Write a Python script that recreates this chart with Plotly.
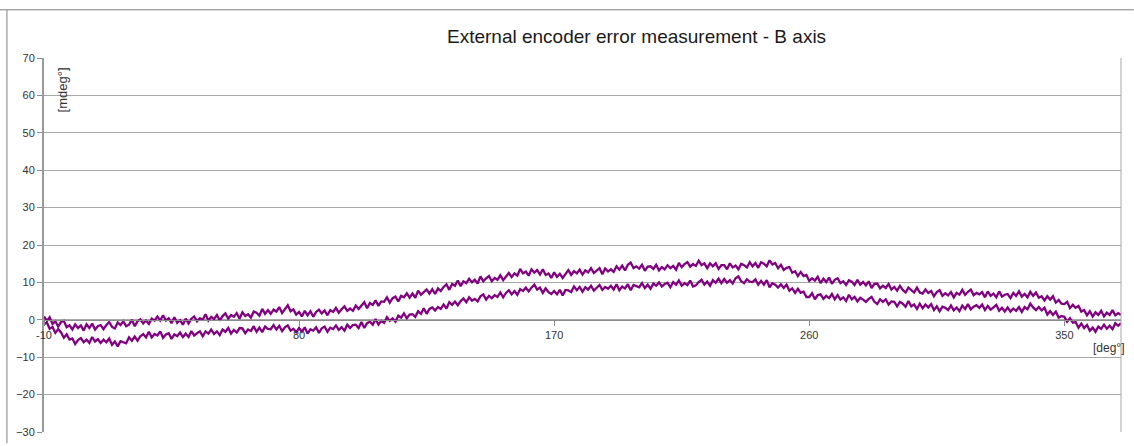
import plotly.graph_objects as go

# Sampling positions [deg]
angle_deg = list(range(-10, 371))

# Upper trace [mdeg] (1 deg steps, -10 .. 370)
upper_mdeg = [
    0.9, -0.3, 0.7, -1.1, -0.4, -1.8, -0.6, -0.3, -2.0, -1.5,
    -2.6, -1.2, -2.2, -1.5, -2.9, -1.2, -2.2, -1.0, -2.6, -1.7,
    -1.4, -2.5, -1.4, -0.6, -1.9, -2.3, -0.7, -1.4, -0.4, -1.7,
    -1.3, 0.0, -1.7, -0.4, 0.1, -1.0, -0.2, -1.1, 0.3, -0.2,
    0.9, -0.2, 1.2, -0.2, 0.4, -0.9, 0.7, -0.8, -0.1, -1.3,
    0.3, -1.0, 0.3, 0.9, -0.4, 0.4, 0.0, 1.5, -0.2, 0.8,
    0.2, 1.3, -0.2, 1.0, 1.7, 0.3, 1.3, 0.8, 1.8, 0.3,
    2.0, 1.0, 1.5, 0.6, 2.2, 1.9, 1.1, 2.9, 1.6, 2.6,
    1.6, 2.7, 2.2, 3.4, 1.8, 3.0, 3.9, 2.3, 2.8, 1.4,
    2.1, 0.9, 2.4, 1.2, 2.3, 0.8, 2.1, 2.7, 1.7, 2.5,
    1.2, 2.6, 2.1, 3.2, 1.9, 2.8, 3.6, 2.4, 3.0, 2.4,
    3.8, 2.9, 3.8, 4.7, 3.1, 4.5, 4.0, 5.2, 3.7, 4.9,
    4.8, 6.0, 4.6, 5.8, 6.2, 4.9, 6.4, 6.0, 7.1, 5.9,
    7.0, 5.9, 7.8, 6.7, 7.4, 8.1, 7.0, 8.2, 6.9, 8.4,
    7.7, 8.8, 9.5, 8.0, 9.6, 9.1, 10.5, 9.0, 10.3, 9.8,
    11.0, 10.0, 10.7, 9.7, 11.6, 10.3, 11.1, 11.7, 10.3, 11.2,
    10.7, 11.9, 10.6, 11.7, 12.5, 11.4, 12.4, 11.8, 13.6, 12.4,
    12.9, 11.8, 13.5, 12.6, 13.3, 12.1, 13.5, 12.0, 12.4, 11.2,
    12.7, 11.5, 12.3, 11.2, 12.3, 13.3, 12.0, 13.0, 12.4, 13.4,
    12.1, 13.2, 12.7, 13.8, 12.5, 13.2, 13.8, 12.2, 13.7, 12.9,
    13.5, 12.8, 14.3, 13.4, 14.5, 13.2, 14.7, 15.3, 13.8, 14.3,
    13.7, 14.7, 13.1, 14.2, 14.3, 13.6, 14.7, 13.2, 14.1, 13.5,
    14.6, 13.8, 14.4, 13.4, 15.2, 14.1, 14.9, 15.4, 14.2, 14.9,
    14.4, 15.8, 14.6, 15.1, 13.8, 15.1, 14.3, 15.1, 13.6, 14.6,
    14.6, 13.5, 15.1, 14.0, 14.5, 13.5, 15.0, 14.6, 14.0, 15.4,
    14.3, 15.2, 13.9, 15.4, 15.0, 14.3, 15.9, 14.8, 15.2, 13.8,
    14.7, 13.3, 13.9, 14.1, 12.6, 13.0, 11.7, 12.8, 11.7, 12.0,
    10.4, 11.1, 10.5, 11.5, 9.8, 11.0, 10.1, 11.3, 9.6, 10.7,
    11.1, 9.8, 10.3, 9.3, 10.6, 10.2, 9.3, 10.7, 9.4, 10.1,
    9.2, 10.3, 8.5, 9.6, 9.7, 8.4, 9.1, 8.5, 9.6, 8.1,
    8.8, 7.8, 9.1, 8.0, 7.3, 8.6, 8.0, 7.3, 8.6, 7.3,
    7.0, 8.1, 7.2, 7.7, 6.3, 7.4, 7.9, 6.4, 7.1, 6.5,
    7.4, 6.0, 7.2, 6.7, 8.0, 6.7, 7.5, 8.1, 6.6, 7.2,
    6.8, 7.4, 6.0, 7.6, 6.4, 7.0, 6.0, 7.6, 6.2, 6.7,
    6.9, 5.8, 7.2, 6.4, 7.6, 6.2, 6.9, 6.0, 7.5, 6.4,
    7.3, 5.9, 6.3, 5.2, 6.3, 5.4, 6.3, 4.6, 5.3, 4.3,
    4.2, 4.8, 3.1, 4.0, 3.2, 3.7, 2.2, 2.6, 1.2, 2.3,
    0.9, 2.0, 1.3, 2.4, 0.9, 1.9, 1.3, 2.6, 1.2, 1.8, 1.3,
]

# Lower trace [mdeg]
lower_mdeg = [
    -1.2, -0.7, -2.4, -1.9, -3.5, -2.5, -3.4, -4.8, -3.9, -5.3,
    -5.0, -6.5, -5.4, -4.9, -6.0, -5.3, -6.2, -4.6, -5.8, -5.2,
    -6.2, -5.3, -6.0, -5.0, -6.7, -5.8, -7.1, -5.7, -6.0, -6.3,
    -4.7, -5.6, -4.5, -5.6, -4.4, -3.8, -4.7, -3.2, -4.7, -3.8,
    -4.2, -3.1, -4.8, -3.9, -3.6, -5.1, -3.9, -4.4, -3.4, -4.6,
    -3.7, -4.6, -3.0, -4.2, -3.6, -3.1, -4.4, -3.1, -3.7, -2.6,
    -3.8, -3.1, -4.1, -2.6, -3.2, -2.2, -3.7, -2.7, -3.4, -2.2,
    -2.3, -3.6, -2.6, -3.0, -1.7, -3.2, -2.1, -3.3, -1.8, -2.4,
    -2.5, -1.4, -2.6, -1.6, -3.0, -2.0, -1.5, -2.9, -2.4, -3.3,
    -2.2, -3.2, -2.0, -3.7, -2.5, -2.9, -2.0, -3.5, -2.3, -1.8,
    -3.2, -2.1, -2.5, -1.5, -2.7, -2.0, -2.9, -1.3, -2.2, -1.4,
    -1.3, -2.2, -0.6, -2.2, -0.9, -0.5, -1.3, 0.2, -1.3, -0.3,
    -0.8, 0.7, -0.3, 0.4, -0.5, 1.1, 0.6, 1.7, 0.4, 1.4,
    1.5, 0.8, 2.3, 1.6, 3.1, 1.6, 2.9, 3.3, 2.5, 3.4,
    2.9, 4.1, 3.0, 4.7, 4.0, 4.9, 3.9, 5.0, 5.7, 4.7,
    6.0, 5.1, 5.6, 4.9, 6.3, 6.8, 5.4, 6.4, 5.8, 6.6,
    6.1, 7.3, 6.0, 7.2, 7.9, 6.8, 7.7, 6.7, 8.2, 7.7,
    8.6, 7.6, 8.6, 9.4, 8.1, 8.6, 7.2, 8.4, 7.4, 6.9,
    7.7, 6.8, 8.0, 6.5, 8.0, 7.9, 7.4, 8.9, 7.9, 8.8,
    7.5, 8.7, 8.1, 9.1, 7.8, 8.6, 9.3, 8.0, 8.8, 8.3,
    9.1, 8.1, 9.5, 7.9, 8.9, 8.4, 9.5, 7.9, 9.3, 9.0,
    8.7, 9.8, 8.5, 9.4, 8.3, 9.7, 9.1, 10.0, 8.9, 9.6,
    9.9, 8.7, 10.1, 9.4, 10.5, 9.1, 9.8, 9.3, 10.5, 8.9,
    9.2, 10.1, 10.7, 9.4, 10.2, 9.1, 10.6, 9.9, 11.0, 9.8,
    10.9, 9.9, 10.6, 9.7, 11.1, 11.6, 10.3, 9.8, 10.8, 10.2,
    10.1, 10.8, 9.4, 10.4, 9.4, 10.6, 8.7, 9.8, 9.4, 8.6,
    9.5, 8.5, 9.4, 7.8, 8.4, 7.2, 8.3, 7.2, 7.5, 6.1,
    6.1, 7.1, 5.5, 6.6, 6.8, 5.6, 6.4, 5.8, 6.9, 5.5,
    6.6, 5.4, 6.0, 5.0, 6.7, 5.5, 6.1, 4.9, 5.9, 5.4,
    4.8, 5.6, 6.1, 4.8, 4.2, 5.5, 4.8, 5.5, 4.1, 4.9,
    4.8, 3.6, 4.8, 4.3, 3.5, 5.0, 3.6, 4.1, 2.9, 4.3,
    3.1, 4.1, 3.3, 4.2, 2.6, 3.6, 2.3, 3.5, 3.2, 2.6,
    3.8, 2.5, 3.3, 2.3, 3.8, 2.9, 4.2, 2.8, 3.5, 3.9,
    3.2, 4.1, 2.6, 3.7, 2.7, 3.3, 4.0, 2.4, 3.2, 2.2,
    3.3, 2.2, 3.0, 2.4, 3.4, 2.1, 3.4, 2.8, 4.3, 3.3,
    2.6, 3.4, 2.5, 3.2, 1.4, 2.3, 1.3, 2.2, 0.6, 1.0,
    0.8, -0.5, 0.4, -0.8, -0.6, -2.1, -1.0, -2.2, -1.4, -2.9,
    -2.1, -3.2, -1.8, -2.4, -1.3, -2.4, -1.6, -2.5, -0.9, -1.6, -0.9,
]

x_ticks = [-10, 80, 170, 260, 350]
y_ticks = [-30, -20, -10, 0, 10, 20, 30, 40, 50, 60, 70]

PURPLE = "#800080"
GRID = "#a8a8a8"
AXIS = "#8c8c8c"
TXT = "#333333"
FONT = "Liberation Sans, Arial, sans-serif"

fig = go.Figure()
for ys in (upper_mdeg, lower_mdeg):
    fig.add_trace(go.Scatter(
        x=angle_deg, y=ys, mode="lines",
        line=dict(color=PURPLE, width=2.3),
        showlegend=False, hoverinfo="skip",
    ))

fig.update_layout(
    width=1134, height=446,
    margin=dict(l=44, r=13, t=58, b=8),
    paper_bgcolor="white", plot_bgcolor="white",
    font=dict(family=FONT, size=11, color=TXT),
    showlegend=False,
    xaxis=dict(
        range=[-10, 370], tickvals=x_ticks, ticktext=[str(v) for v in x_ticks],
        anchor="free", position=0.3,
        showline=True, linecolor=AXIS, linewidth=1.2,
        ticks="outside", ticklen=5, tickcolor=AXIS,
        showgrid=False, zeroline=False,
        tickfont=dict(size=11, color=TXT),
    ),
    yaxis=dict(
        range=[-30, 70], tickvals=y_ticks,
        showline=True, linecolor="#999999", linewidth=2,
        ticks="outside", ticklen=5, tickcolor=AXIS,
        showgrid=True, gridcolor=GRID, gridwidth=1,
        zeroline=False,
        tickfont=dict(size=11, color=TXT),
    ),
    annotations=[
        dict(text="External encoder error measurement - B axis",
             x=0.5497, y=1.058, xref="paper", yref="paper",
             xanchor="center", yanchor="middle", showarrow=False,
             font=dict(size=19, color="#1a1a1a", family=FONT)),
        dict(text="[mdeg°]", x=0.0176, y=0.9158, xref="paper", yref="paper",
             xanchor="center", yanchor="middle", showarrow=False, textangle=-90,
             font=dict(size=13, color=TXT, family=FONT)),
        dict(text="[deg°]", x=0.9889, y=0.2237, xref="paper", yref="paper",
             xanchor="center", yanchor="middle", showarrow=False,
             font=dict(size=12, color=TXT, family=FONT)),
    ],
    shapes=[
        # right border of plot area
        dict(type="line", xref="paper", yref="paper", x0=1, x1=1, y0=0, y1=1,
             line=dict(color=GRID, width=1)),
        # outer chart frame (top and left)
        dict(type="line", xref="paper", yref="paper", x0=-0.041, x1=1.012,
             y0=1.1289, y1=1.1289, line=dict(color="#808080", width=1)),
        dict(type="line", xref="paper", yref="paper", x0=-0.0344, x1=-0.0344,
             y0=-0.03, y1=1.1289, line=dict(color="#808080", width=1)),
    ],
)

fig.write_html("out.html")
